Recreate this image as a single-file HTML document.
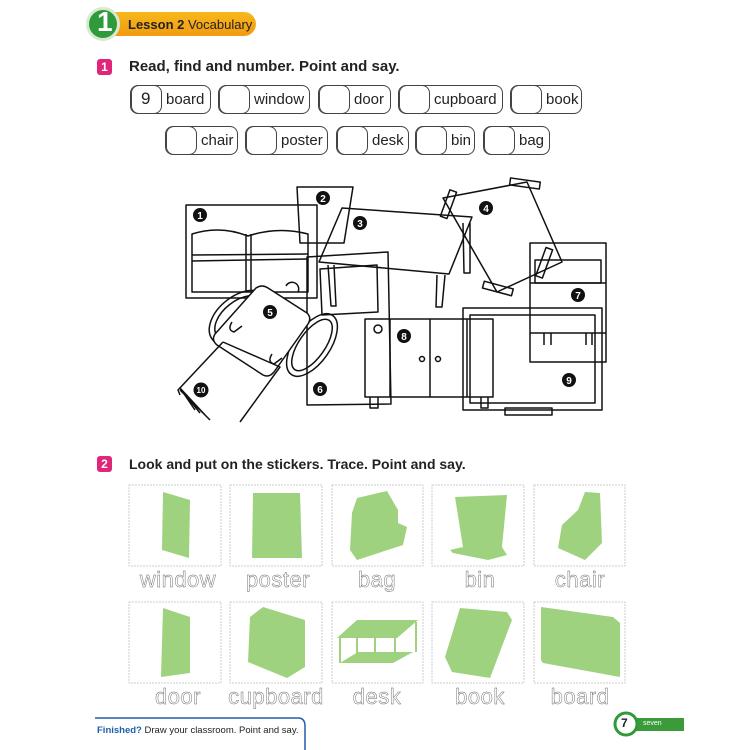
<!DOCTYPE html>
<html><head><meta charset="utf-8"><style>
body{margin:0;width:750px;height:750px;background:#fff;overflow:hidden;position:relative;font-family:"Liberation Sans",sans-serif}
.a{position:absolute}
.wb{position:absolute;height:29px;border:1.3px solid #444;border-radius:8px;box-sizing:border-box;font-size:15px;color:#222}
.wb .n{position:absolute;left:0;top:-1px;height:29px;border:1.3px solid #444;border-radius:8px;box-sizing:border-box}
.wb .t{position:absolute;top:5px}
.lab{position:absolute;font-size:22px;color:#fff;-webkit-text-stroke:0.45px #666;text-align:center;width:100px;letter-spacing:0.5px}
</style></head><body>
<div class="a" style="left:110px;top:12px;width:146px;height:24px;background:linear-gradient(#f7b81c,#f29a10);border-radius:0 12px 12px 0"></div>
<div class="a" style="left:86px;top:7px;width:34px;height:34px;border-radius:50%;background:#2f9a3a;border:3px solid #d8e9d0;box-sizing:border-box"></div>
<div class="a" style="left:97px;top:6px;color:#fff;font-weight:bold;font-size:28px">1</div>
<div class="a" style="left:128px;top:17px;font-size:13px;color:#222"><b>Lesson 2</b> Vocabulary</div>
<div class="a" style="left:97px;top:59px;width:15px;height:16px;background:#e0267a;border-radius:3px;color:#fff;font-weight:bold;font-size:12px;text-align:center;line-height:16px">1</div>
<div class="a" style="left:129px;top:58px;font-weight:bold;font-size:15px;color:#222">Read, find and number. Point and say.</div>

<div class="wb" style="left:130px;top:85px;width:81px"><div class="n" style="width:31px"></div><span class="t" style="left:10px;font-size:17px;top:3px">9</span><span class="t" style="left:35px">board</span></div>
<div class="wb" style="left:218px;top:85px;width:92px"><div class="n" style="width:31px"></div><span class="t" style="left:35px">window</span></div>
<div class="wb" style="left:318px;top:85px;width:73px"><div class="n" style="width:31px"></div><span class="t" style="left:35px">door</span></div>
<div class="wb" style="left:398px;top:85px;width:105px"><div class="n" style="width:31px"></div><span class="t" style="left:35px">cupboard</span></div>
<div class="wb" style="left:510px;top:85px;width:72px"><div class="n" style="width:31px"></div><span class="t" style="left:35px">book</span></div>

<div class="wb" style="left:165px;top:126px;width:73px"><div class="n" style="width:31px"></div><span class="t" style="left:35px">chair</span></div>
<div class="wb" style="left:245px;top:126px;width:83px"><div class="n" style="width:31px"></div><span class="t" style="left:35px">poster</span></div>
<div class="wb" style="left:336px;top:126px;width:73px"><div class="n" style="width:31px"></div><span class="t" style="left:35px">desk</span></div>
<div class="wb" style="left:415px;top:126px;width:60px"><div class="n" style="width:31px"></div><span class="t" style="left:35px">bin</span></div>
<div class="wb" style="left:483px;top:126px;width:67px"><div class="n" style="width:31px"></div><span class="t" style="left:35px">bag</span></div>

<svg class="a" style="left:0;top:0" width="750" height="750" fill="none" stroke="#111" stroke-width="1.5" stroke-linejoin="round">
<rect x="186" y="205" width="131" height="93"/>
<path d="M192 234 Q220 225 248 236 Q278 226 308 234 L308 292 L192 292 Z"/>
<path d="M192 255 L308 254 M192 261 L308 259 M246 234 V292 M251 234 V292"/>
<path d="M297 187 L353 187 L344 243 L300 243 Z"/>
<path d="M342 208 L472 217 L449 274 L319 262 Z"/>
<path d="M328 265 L331 306 L336 306 L334 265 M437 275 L436 307 L442 307 L445 275 M463 223 L464 273 L470 273 L470 223"/>
<path d="M320 269 L377 265 L378 312 L322 315 Z"/>
<path d="M307 257 L388 252 L391 404 L307 405 Z"/>
<path d="M443 198 L527 182 L562 262 L497 292 Z"/>
<rect x="510" y="180" width="30" height="7" transform="rotate(8 525 183)"/>
<rect x="541" y="248" width="7" height="30" transform="rotate(20 545 262)"/>
<rect x="483" y="285" width="30" height="7" transform="rotate(15 498 288)"/>
<rect x="445" y="190" width="7" height="28" transform="rotate(20 448 204)"/>
<rect x="530" y="243" width="76" height="119"/>
<rect x="535" y="260" width="66" height="23"/>
<path d="M530 283 H606 M530 333 H606 M544 333 V345 M551 333 V345 M586 333 V345 M592 333 V345"/>
<rect x="365" y="319" width="128" height="78"/>
<path d="M390 319 V397 M430 319 V397 M467 319 V397"/>
<circle cx="378" cy="329" r="4"/><circle cx="422" cy="359" r="2.5"/><circle cx="438" cy="359" r="2.5"/>
<path d="M370 397 V408 H378 V397 M481 397 V408 H488 V397"/>
<rect x="463" y="308" width="139" height="102"/>
<rect x="470" y="315" width="125" height="88"/>
<rect x="505" y="408" width="47" height="7"/>
<ellipse cx="240" cy="318" rx="35" ry="22" transform="rotate(-38 240 318)"/>
<ellipse cx="240" cy="318" rx="29" ry="17" transform="rotate(-38 240 318)"/>
<ellipse cx="312" cy="345" rx="18" ry="36" transform="rotate(35 312 345)"/>
<ellipse cx="312" cy="345" rx="13" ry="30" transform="rotate(35 312 345)"/>
<path d="M256 288 Q262 284 268 288 L307 313 Q312 318 308 324 L274 372 Q269 378 263 375 L217 345 Q211 340 215 334 Z" fill="#fff"/>
<path d="M232 322 q-5 8 2 10 l8 -6 M272 354 q-5 8 2 10 l8 -6"/>
<path d="M286 286 a6 6 0 0 1 12 6"/>
<path d="M223 342 L280 367 L240 422 M223 342 L178 390 L180 395 M180 388 L195 410 M180 388 L200 413 M180 388 L206 416 M180 390 L210 420"/>
<g fill="#111" stroke="none">
<circle cx="200" cy="215" r="7"/><circle cx="323" cy="198" r="7"/><circle cx="360" cy="223" r="7"/><circle cx="486" cy="208" r="7"/><circle cx="270" cy="312" r="7"/><circle cx="320" cy="389" r="7"/><circle cx="578" cy="295" r="7"/><circle cx="404" cy="336" r="7"/><circle cx="569" cy="380" r="7"/><circle cx="201" cy="390" r="7.5"/>
</g>
<g fill="#fff" stroke="none" font-family="Liberation Sans" font-weight="bold" font-size="10" text-anchor="middle">
<text x="200" y="219">1</text><text x="323" y="202">2</text><text x="360" y="227">3</text><text x="486" y="212">4</text><text x="270" y="316">5</text><text x="320" y="393">6</text><text x="578" y="299">7</text><text x="404" y="340">8</text><text x="569" y="384">9</text><text x="201" y="393" font-size="8">10</text>
</g>
<g stroke="#ccc" stroke-width="1" stroke-dasharray="2 1">
<rect x="129" y="485" width="92" height="81"/><rect x="230" y="485" width="92" height="81"/><rect x="332" y="485" width="91" height="81"/><rect x="432" y="485" width="92" height="81"/><rect x="534" y="485" width="91" height="81"/>
<rect x="129" y="602" width="92" height="81"/><rect x="230" y="602" width="92" height="81"/><rect x="332" y="602" width="91" height="81"/><rect x="432" y="602" width="92" height="81"/><rect x="534" y="602" width="91" height="81"/>
</g>
<g fill="#9ed27e" stroke="none">
<polygon points="163,492 190,500 189,558 162,550"/>
<polygon points="253,493 300,493 302,558 252,558"/>
<polygon points="357,498 387,491 398,510 398,523 407,527 403,545 357,560 350,550 352,513"/>
<polygon points="455,497 507,495 502,547 507,555 488,560 453,553 450,550 463,547"/>
<polygon points="585,492 600,493 602,543 585,560 558,548 562,525 578,510"/>
<polygon points="163,608 190,617 190,673 161,677"/>
<polygon points="263,607 305,620 305,667 287,678 248,662 250,617"/>
<polygon points="337,638 357,620 418,620 397,638"/>
<polygon points="340,663 358,652 413,652 393,663"/>
<polygon points="460,608 507,612 512,620 490,678 452,672 445,657"/>
<polygon points="541,607 613,617 620,623 620,677 543,663 541,660"/>
</g>
<path d="M340 638 V663 M357 638 V662 M375 638 V660 M395 638 V660 M416 622 V652" stroke="#9ed27e" stroke-width="2"/>
<path d="M95 718 H298 Q305 718 305 726 V750" stroke="#1d5fa8" stroke-width="1.5"/>
<rect x="636" y="718" width="48" height="13" fill="#3b9a3a" stroke="none"/>
<circle cx="626" cy="724" r="11" fill="#fff" stroke="#2f9a3a" stroke-width="3"/>
</svg>
<div class="lab" style="left:128px;top:567px">window</div>
<div class="lab" style="left:228px;top:567px">poster</div>
<div class="lab" style="left:327px;top:567px">bag</div>
<div class="lab" style="left:430px;top:567px">bin</div>
<div class="lab" style="left:530px;top:567px">chair</div>
<div class="lab" style="left:128px;top:684px">door</div>
<div class="lab" style="left:226px;top:684px">cupboard</div>
<div class="lab" style="left:327px;top:684px">desk</div>
<div class="lab" style="left:430px;top:684px">book</div>
<div class="lab" style="left:530px;top:684px">board</div>
<div class="a" style="left:97px;top:456px;width:15px;height:16px;background:#e0267a;border-radius:3px;color:#fff;font-weight:bold;font-size:12px;text-align:center;line-height:16px">2</div>
<div class="a" style="left:129px;top:456px;font-weight:bold;font-size:14px;color:#222">Look and put on the stickers. Trace. Point and say.</div>
<div class="a" style="left:97px;top:725px;font-size:9.5px;color:#222"><b style="color:#1d5fa8">Finished?</b> Draw your classroom. Point and say.</div>
<div class="a" style="left:621px;top:716px;font-size:12px;font-weight:bold;color:#222">7</div>
<div class="a" style="left:643px;top:720px;font-size:7px;color:#fff">seven</div>
</body></html>
